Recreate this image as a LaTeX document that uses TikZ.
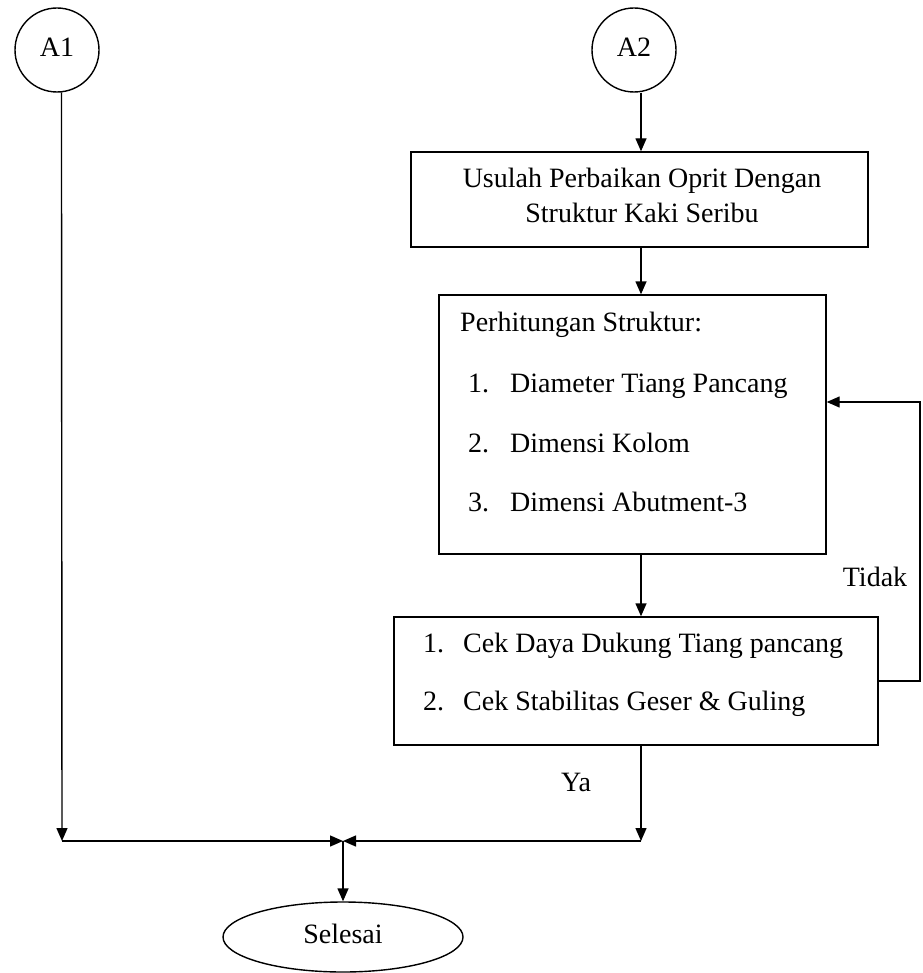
\documentclass[tikz,border=0pt]{standalone}
\usepackage{fontspec}
\setmainfont{Liberation Serif}
\usetikzlibrary{arrows.meta,shapes.geometric}
\begin{document}
\begin{tikzpicture}[x=1pt,y=-1pt,
  every node/.style={font=\fontsize{28}{35}\selectfont, inner sep=0pt},
  ln/.style={line width=1.4pt},
  arr/.style={ln,-{Triangle[length=13pt,width=11pt]}},
  conn/.style={circle,draw,line width=1.4pt,minimum size=84pt},
  boxst/.style={rectangle,draw,line width=1.4pt},
  lbl/.style={anchor=base west}
]
\useasboundingbox (0,0) rectangle (922,973);
% connectors (circles)
\node[conn] (A1) at (57,50) {};
\node (A1t) at (57,47) {A1};
\node[conn] (A2) at (634,50) {};
\node (A2t) at (634,47) {A2};
% boxes
\node[boxst, minimum width=457pt, minimum height=95pt] (B1) at (639.5,199.5) {};
\node[align=center] (B1t) at (642,195) {Usulah Perbaikan Oprit Dengan\\Struktur Kaki Seribu};
\node[boxst, minimum width=387pt, minimum height=259pt] (B2) at (632.5,424.5) {};
\node[lbl] (t0) at (460,331) {Perhitungan Struktur:};
\node[lbl] (n1) at (468,392) {1.};
\node[lbl] (i1) at (510,392) {Diameter Tiang Pancang};
\node[lbl] (n2) at (468,452) {2.};
\node[lbl] (i2) at (510,452) {Dimensi Kolom};
\node[lbl] (n3) at (468,511) {3.};
\node[lbl] (i3) at (510,511) {Dimensi Abutment-3};
\node[boxst, minimum width=484pt, minimum height=128pt] (B3) at (636,681) {};
\node[lbl] (m1) at (423,652) {1.};
\node[lbl] (j1) at (463,652) {Cek Daya Dukung Tiang pancang};
\node[lbl] (m2) at (423,710) {2.};
\node[lbl] (j2) at (463,710) {Cek Stabilitas Geser \& Guling};
% labels
\node (tidak) at (875,577) {Tidak};
\node (ya) at (576,782) {Ya};
% terminator
\node[ellipse, draw, ln, minimum width=240pt, minimum height=70pt] (E) at (343,937) {};
\node (Et) at (343,934) {Selesai};
% helper coordinates
\coordinate (vx) at (641,0);
\coordinate (cL) at (62,841);
\coordinate (J) at (343,841);
\coordinate (cR) at (641,841);
\coordinate (fb) at (920,0);
\coordinate (fy) at (0,402);
% connectors
\draw[arr] (A2.south -| vx) -- (B1.north -| vx);
\draw[arr] (B1.south -| vx) -- (B2.north -| vx);
\draw[arr] (B2.south -| vx) -- (B3.north -| vx);
\draw[arr] (B3.south -| vx) -- (cR);
\draw[arr] (cR) -- (J);
\draw[arr] (A1.-84) -- (cL);
\draw[arr] (cL) -- (J);
\draw[arr] (J) -- (E.north);
\draw[arr] (B3.east) -- (B3.east -| fb) -- (fb |- fy) -- (B2.east |- fy);
\end{tikzpicture}
\end{document}
